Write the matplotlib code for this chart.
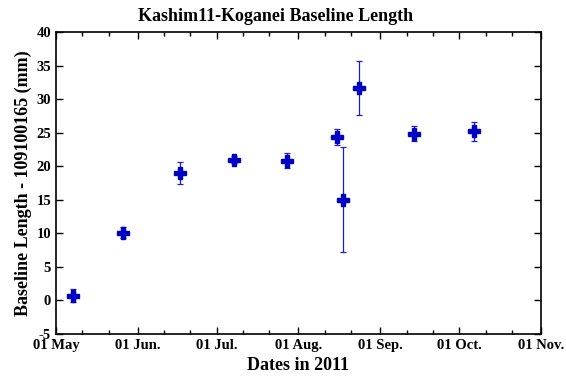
import matplotlib
matplotlib.use('Agg')
import matplotlib.pyplot as plt
import numpy as np
from datetime import datetime

# observation epochs and baseline offsets
dates = [datetime(2011, 5, 7, 14), datetime(2011, 5, 26, 12), datetime(2011, 6, 17),
         datetime(2011, 7, 7, 14), datetime(2011, 7, 27, 12), datetime(2011, 8, 15, 16),
         datetime(2011, 8, 18), datetime(2011, 8, 24), datetime(2011, 9, 13, 16),
         datetime(2011, 10, 6, 14)]
lengths = [0.7, 10.1, 19.0, 21.0, 20.8, 24.4, 15.0, 31.65, 24.85, 25.2]
errors = [1.0, 0.8, 1.7, 0.5, 1.1, 1.2, 7.8, 4.0, 1.1, 1.4]

month_ticks = [datetime(2011, m, 1) for m in range(5, 12)]
month_labels = ['01 May', '01 Jun.', '01 Jul.', '01 Aug.', '01 Sep.', '01 Oct.', '01 Nov.']

plt.rcParams['font.family'] = 'Liberation Serif'
plt.rcParams['font.weight'] = 'bold'
plt.rcParams['axes.unicode_minus'] = False

fig = plt.figure(figsize=(5.66, 3.76), dpi=100)
ax = fig.add_axes([0.0989, 0.1117, 0.8569, 0.8032])

ax.errorbar(dates, lengths, yerr=errors, fmt='none', ecolor='#1c1cd0',
            elinewidth=0.9, capsize=2, capthick=0.9)
ax.plot(dates, lengths, linestyle='none', marker='P', markersize=9,
        color='#0000c4', markeredgecolor='#0000c4')

ax.set_xlim(month_ticks[0], month_ticks[-1])
ax.set_ylim(-5, 40)
ax.set_xticks(month_ticks)
ax.set_xticklabels(month_labels)
minor = [datetime(2011, m, d) for m in range(5, 11) for d in (11, 21)]
ax.set_xticks(minor, minor=True)
ax.set_yticks(np.arange(-5, 41, 5))

ax.tick_params(axis='both', which='both', direction='in', top=True, right=True,
               labelsize=10.5, width=1)
ax.tick_params(axis='both', which='major', length=5)
ax.tick_params(axis='both', which='minor', length=3)
for lbl in ax.get_xticklabels() + ax.get_yticklabels():
    lbl.set_fontweight('bold')
for sp in ax.spines.values():
    sp.set_linewidth(1.2)

fig.text(276 / 566, 0.955, 'Kashim11-Koganei Baseline Length', ha='center', va='center',
         fontsize=13, fontweight='bold')
ax.set_xlabel('Dates in 2011', fontsize=13, fontweight='bold', labelpad=4)
ax.set_ylabel('Baseline Length - 109100165 (mm)', fontsize=13, fontweight='bold', labelpad=3)

fig.savefig('out.png', dpi=100)
